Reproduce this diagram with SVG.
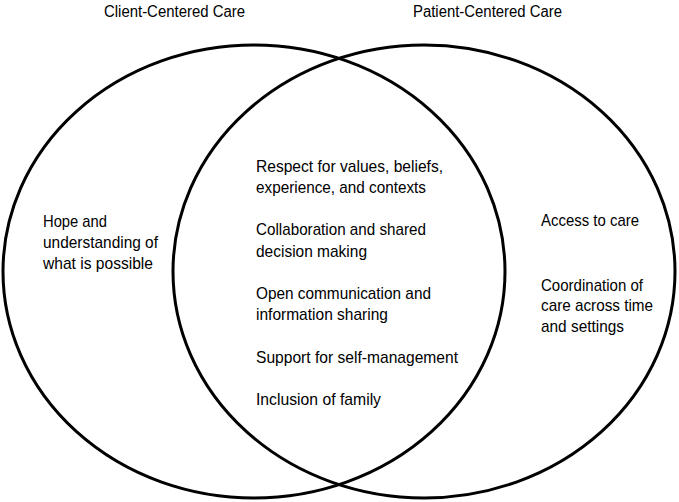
<svg xmlns="http://www.w3.org/2000/svg" width="679" height="502" viewBox="0 0 679 502">
<style>
.c{fill:none;stroke:#000;stroke-width:3}
text{font-family:"Liberation Sans",Arial,sans-serif;font-size:17px;fill:#000}
.t{font-size:16px}
</style>
<rect width="679" height="502" fill="#fff"/>
<g id="client-centered">
<ellipse class="c" cx="254" cy="271.5" rx="251" ry="226.5"/>
<text class="t" x="104" y="17" textLength="141" lengthAdjust="spacingAndGlyphs">Client-Centered Care</text>
<text x="43" y="226.7" textLength="64" lengthAdjust="spacingAndGlyphs">Hope and</text>
<text x="43" y="247.7" textLength="115" lengthAdjust="spacingAndGlyphs">understanding of</text>
<text x="43" y="268.5" textLength="110" lengthAdjust="spacingAndGlyphs">what is possible</text>
</g>
<g id="patient-centered">
<ellipse class="c" cx="424" cy="271.5" rx="251" ry="226.5"/>
<text class="t" x="413" y="17" textLength="149" lengthAdjust="spacingAndGlyphs">Patient-Centered Care</text>
<text x="541" y="226" textLength="98" lengthAdjust="spacingAndGlyphs">Access to care</text>
<text x="541" y="290.5" textLength="102" lengthAdjust="spacingAndGlyphs">Coordination of</text>
<text x="541" y="311" textLength="112" lengthAdjust="spacingAndGlyphs">care across time</text>
<text x="541" y="331.7" textLength="83" lengthAdjust="spacingAndGlyphs">and settings</text>
</g>
<g id="shared">
<text x="256" y="172" textLength="187" lengthAdjust="spacingAndGlyphs">Respect for values, beliefs,</text>
<text x="256" y="193" textLength="170" lengthAdjust="spacingAndGlyphs">experience, and contexts</text>
<text x="256" y="235" textLength="170" lengthAdjust="spacingAndGlyphs">Collaboration and shared</text>
<text x="256" y="256.5" textLength="111" lengthAdjust="spacingAndGlyphs">decision making</text>
<text x="256" y="299" textLength="175" lengthAdjust="spacingAndGlyphs">Open communication and</text>
<text x="256" y="320" textLength="132" lengthAdjust="spacingAndGlyphs">information sharing</text>
<text x="256" y="362.5" textLength="202" lengthAdjust="spacingAndGlyphs">Support for self-management</text>
<text x="256" y="405" textLength="125" lengthAdjust="spacingAndGlyphs">Inclusion of family</text>
</g>
<g id="connectors"></g>
</svg>
